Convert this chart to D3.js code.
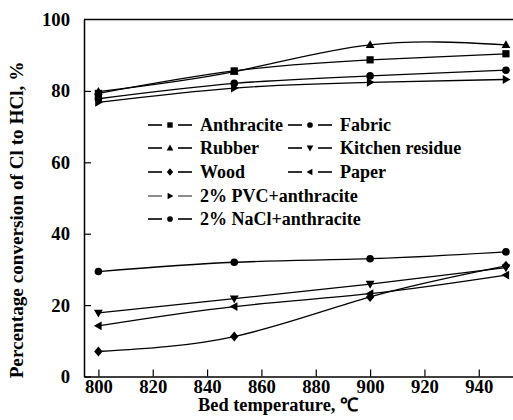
<!DOCTYPE html>
<html><head><meta charset="utf-8">
<script src="https://cdn.jsdelivr.net/npm/d3@7"></script>
<style>body{margin:0;background:#fff}svg{display:block}
text{font-family:"Liberation Serif","Times New Roman",serif;font-weight:bold;font-size:17px;}</style>
</head><body>
<script>
const temps = [800, 850, 900, 950];
const anthracite = [79.3, 85.6, 88.7, 90.4];
const fabric = [77.8, 82.1, 84.2, 85.8];
const rubber = [79.8, 85.4, 92.9, 92.9];
const kitchen = [17.8, 21.8, 25.9, 30.5];
const wood = [7.0, 11.2, 22.3, 31.0];
const paper = [14.2, 19.6, 23.2, 28.4];
const pvc = [76.8, 80.8, 82.4, 83.2];
const nacl = [29.4, 32.0, 33.0, 34.9];
const xTicks = [800, 820, 840, 860, 880, 900, 920, 940];
const yTicks = [0, 20, 40, 60, 80, 100];

const series = [
  {name: "Anthracite", values: anthracite, sym: "square"},
  {name: "Fabric", values: fabric, sym: "circle"},
  {name: "Rubber", values: rubber, sym: "up"},
  {name: "Kitchen residue", values: kitchen, sym: "down"},
  {name: "Wood", values: wood, sym: "diamond"},
  {name: "Paper", values: paper, sym: "left"},
  {name: "2% PVC+anthracite", values: pvc, sym: "right"},
  {name: "2% NaCl+anthracite", values: nacl, sym: "circle"}
];

const W = 513, H = 420;
const svg = d3.select("body").append("svg").attr("width", W).attr("height", H);

const x = d3.scaleLinear().domain([794.7, 952.6]).range([84, 513]);
const y = d3.scaleLinear().domain([0, 100]).range([376.5, 19.5]);

function enlarge(sel, s) {
  sel.each(function () {
    const t = d3.select(this);
    const tx = +t.attr("x") || 0, ty = +t.attr("y") || 0;
    t.attr("x", 0).attr("y", 0).attr("transform", `translate(${tx},${ty}) scale(${s})`);
  });
}

// axes
const xAxis = svg.append("g").attr("transform", `translate(0,${y(0)})`)
  .call(d3.axisBottom(x).tickValues(xTicks).tickSizeInner(-7).tickSizeOuter(0).tickPadding(3));
const yAxis = svg.append("g").attr("transform", `translate(${x.range()[0]},0)`)
  .call(d3.axisLeft(y).tickValues(yTicks).tickSizeInner(-7).tickSizeOuter(0).tickPadding(14));
[xAxis, yAxis].forEach(g => {
  g.attr("font-family", null).attr("font-size", null);
  g.select(".domain").attr("stroke", "#000").attr("stroke-width", 1.5);
  g.selectAll(".tick line").attr("stroke", "#000").attr("stroke-width", 1.2);
  g.selectAll("text").attr("fill", "#000");
});
xAxis.selectAll("text").attr("dy", "0.72em");
enlarge(xAxis.selectAll("text"), 1.1);
enlarge(yAxis.selectAll("text"), 1.1);
yAxis.selectAll(".tick").filter(d => d === 100).select("line").remove();
// top frame line
svg.append("line").attr("x1", x.range()[0]).attr("x2", W).attr("y1", y(100)).attr("y2", y(100))
  .attr("stroke", "#000").attr("stroke-width", 1.5);

// titles
svg.append("text").attr("transform", "translate(278,411) scale(1.08)").attr("text-anchor", "middle")
  .text("Bed temperature, \u2103");
svg.append("text").attr("transform", "translate(23,220) rotate(-90) scale(1.13)").attr("text-anchor", "middle")
  .text("Percentage conversion of Cl to HCl, %");

function drawSym(g, sym, cx, cy, s) {
  const r = s;
  let el;
  if (sym === "circle") el = g.append("circle").attr("cx", cx).attr("cy", cy).attr("r", r * 0.95);
  else if (sym === "square") el = g.append("rect").attr("x", cx - r * 0.9).attr("y", cy - r * 0.9).attr("width", r * 1.8).attr("height", r * 1.8);
  else {
    let pts;
    if (sym === "up") pts = [[0, -r * 1.15], [r * 1.1, r * 0.8], [-r * 1.1, r * 0.8]];
    if (sym === "down") pts = [[0, r * 1.15], [r * 1.1, -r * 0.8], [-r * 1.1, -r * 0.8]];
    if (sym === "left") pts = [[-r * 1.15, 0], [r * 0.8, r * 1.1], [r * 0.8, -r * 1.1]];
    if (sym === "right") pts = [[r * 1.15, 0], [-r * 0.8, r * 1.1], [-r * 0.8, -r * 1.1]];
    if (sym === "diamond") pts = [[0, -r * 1.25], [r * 1.05, 0], [0, r * 1.25], [-r * 1.05, 0]];
    el = g.append("polygon").attr("points", pts.map(p => [cx + p[0], cy + p[1]].join(",")).join(" "));
  }
  el.attr("fill", "#000");
}

const line = d3.line().x((d, i) => x(temps[i])).y(d => y(d)).curve(d3.curveNatural);
const plot = svg.append("g");
series.forEach(s => {
  plot.append("path").attr("d", line(s.values)).attr("fill", "none")
    .attr("stroke", "#000").attr("stroke-width", 1.3);
});
series.forEach(s => {
  s.values.forEach((v, i) => drawSym(plot, s.sym, x(temps[i]), y(v), 4));
});

// legend
const legendPos = [
  [148, 125], [288, 125],
  [148, 148], [288, 148],
  [148, 172], [288, 172],
  [148, 196], [148, 219]
];
const leg = svg.append("g");
series.forEach((s, i) => {
  const [lx, ly] = legendPos[i];
  const sw = s.sym === "right" ? 0.9 : 1.6;
  leg.append("line").attr("x1", lx).attr("x2", lx + 14).attr("y1", ly).attr("y2", ly).attr("stroke", "#000").attr("stroke-width", sw);
  leg.append("line").attr("x1", lx + 30).attr("x2", lx + 44).attr("y1", ly).attr("y2", ly).attr("stroke", "#000").attr("stroke-width", sw);
  drawSym(leg, s.sym, lx + 22, ly, 3);
  leg.append("text").attr("transform", `translate(${lx + 52},${ly}) scale(1.06)`).attr("dy", "0.35em")
    .text(s.name);
});
</script>
</body></html>
